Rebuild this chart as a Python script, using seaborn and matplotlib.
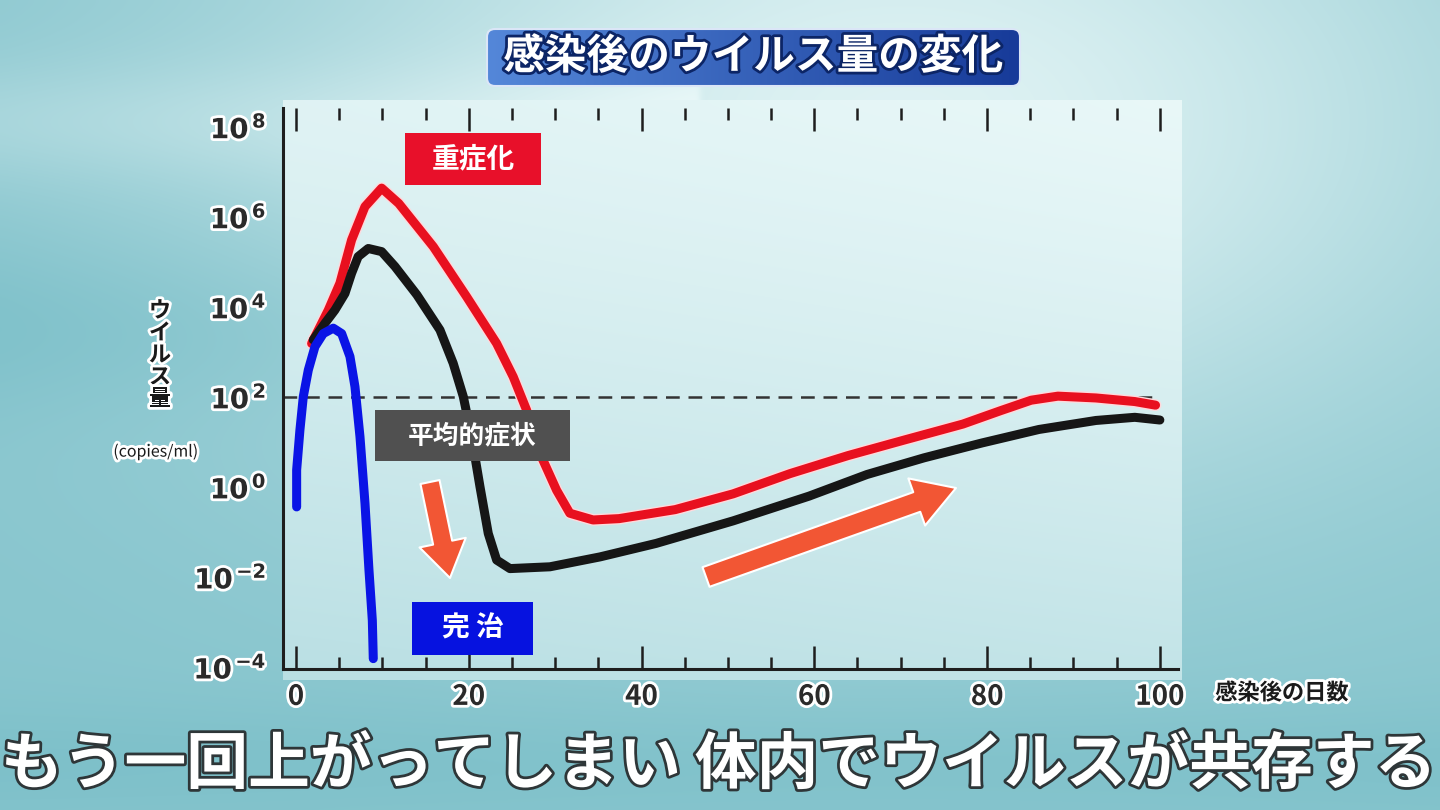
import matplotlib
matplotlib.use('Agg')

import numpy as np
import pandas as pd
import matplotlib.pyplot as plt
import matplotlib.transforms as mtransforms
import seaborn as sns
from matplotlib import patheffects as pe
from matplotlib.patches import Rectangle, FancyBboxPatch, FancyArrowPatch
from matplotlib.ticker import FixedLocator, MultipleLocator, FuncFormatter

sns.set_theme(style='white')
plt.rcParams['font.family'] = ['Noto Sans CJK JP', 'DejaVu Sans']
plt.rcParams['mathtext.fontset'] = 'dejavusans'

# Data: days after infection vs log10(copies/ml)
severe_day = [1.81, 3.74, 5.09, 6.44, 7.99, 9.92, 11.9, 15.9, 19.75, 23.23, 25.15, 26.7,
              28.24, 30.17, 31.7, 34.4, 37.4, 43.9, 50.6, 57.2, 63.9, 70.5, 77.2, 81.6,
              85.1, 88.2, 92.6, 97.1, 99.5]
severe_log = [3.19, 3.93, 4.53, 5.49, 6.23, 6.64, 6.30, 5.34, 4.23, 3.19, 2.45, 1.71,
              0.75, -0.07, -0.58, -0.73, -0.70, -0.50, -0.15, 0.30, 0.70, 1.05, 1.40, 1.70,
              1.93, 2.02, 1.98, 1.90, 1.82]

average_day = [2.0, 3.36, 4.5, 5.67, 6.44, 7.2, 8.37, 9.92, 11.46, 14.0, 16.67, 18.2, 19.37,
               20.33, 21.3, 22.26, 23.23, 24.77, 29.4, 35.2, 41.7, 50.6, 59.4, 66.1, 72.7,
               79.4, 86.0, 92.6, 97.1, 100.0]
average_log = [3.27, 3.64, 3.93, 4.30, 4.75, 5.12, 5.30, 5.23, 4.90, 4.27, 3.49, 2.75, 2.01,
               1.12, 0.01, -1.03, -1.62, -1.81, -1.77, -1.55, -1.25, -0.75, -0.20, 0.28, 0.65,
               0.98, 1.28, 1.48, 1.55, 1.49]

cured_day = [0.08, 0.08, 0.46, 0.85, 1.43, 2.2, 3.16, 4.32, 5.29, 6.25, 6.83, 7.41, 7.99,
             8.45, 8.84, 8.95]
cured_log = [-0.44, 0.38, 1.27, 2.01, 2.60, 3.12, 3.41, 3.53, 3.41, 2.90, 2.23, 1.12, -0.36,
             -1.84, -2.96, -3.81]

groups = ['重症化', '平均的症状', '完治']
colors = {'重症化': '#e8101f', '平均的症状': '#161616', '完治': '#0a14e6'}

threshold = 1e2
x_major = [0, 20, 40, 60, 80, 100]
y_major_exp = [-4, -2, 0, 2, 4, 6, 8]

title = '感染後のウイルス量の変化'
subtitle = 'もう一回上がってしまい 体内でウイルスが共存する'

frames = []
for name, d, v in [(groups[0], severe_day, severe_log),
                   (groups[1], average_day, average_log),
                   (groups[2], cured_day, cured_log)]:
    frames.append(pd.DataFrame({'day': d, 'copies': 10.0 ** np.array(v), 'group': name}))
df = pd.concat(frames, ignore_index=True)

W, H = 1440, 810
fig = plt.figure(figsize=(14.4, 8.1), dpi=100)
# transform in pixel coordinates measured from top-left
pix = mtransforms.Affine2D().scale(1 / W, -1 / H).translate(0, 1) + fig.transFigure

# background
bg = fig.add_axes([0, 0, 1, 1], zorder=-5)
yy, xx = np.mgrid[0:H:5, 0:W:5].astype(float)
t = 0.33 + 0.57 * np.exp(-((xx - 900) / 650) ** 2 - ((yy - 120) / 380) ** 2)
t += 0.14 * np.exp(-((yy - 120) / 60) ** 2) * (xx < 700)
t -= 0.10 * np.exp(-((yy - 320) / 90) ** 2) * (xx < 300)
t -= 0.06 * np.exp(-((yy - 760) / 60) ** 2)
t = np.clip(t, 0, 1)
dark = np.array([0.33, 0.67, 0.72])
light = np.array([0.93, 0.98, 0.98])
img = dark[None, None, :] * (1 - t[..., None]) + light[None, None, :] * t[..., None]
bg.imshow(img, extent=[0, W, H, 0], interpolation='bicubic', aspect='auto')
# lighter chart panel
py, px = np.mgrid[0:100, 0:100].astype(float)
tp = 0.97 - 0.25 * (py / 100) ** 1.2 - 0.06 * (1 - px / 100)
panel = dark[None, None, :] * (1 - tp[..., None]) + light[None, None, :] * tp[..., None]
bg.imshow(panel, extent=[283, 1182, 680, 100], interpolation='bicubic', aspect='auto')
bg.set_xlim(0, W)
bg.set_ylim(H, 0)
bg.axis('off')

# main chart
ax = fig.add_axes([283 / W, 1 - 669 / H, (1178 - 283) / W, (669 - 108) / H])
ax.patch.set_alpha(0)
sns.lineplot(data=df, x='day', y='copies', hue='group', hue_order=groups,
             palette=colors, sort=False, estimator=None, linewidth=6.5,
             legend=False, ax=ax)
for ln in ax.lines:
    ln.set_solid_joinstyle('round')
    ln.set_solid_capstyle('round')
ax.lines[0].set_path_effects([pe.Stroke(linewidth=8.5, foreground='#ffd9dc'), pe.Normal()])
ax.hlines(threshold, -1.5, 100, colors='#333333', linestyles=(0, (5.5, 3.5)),
          linewidth=1.8, zorder=1)

ax.set_yscale('log')
ax.set_xlim(-1.5, 102.1)
ax.set_ylim(10 ** -4.04, 10 ** 8.42)
ax.set_xlabel('')
ax.set_ylabel('')


def pow_label(v, pos):
    e = int(round(np.log10(v)))
    return r'$\mathbf{10^{\,%s}}$' % str(e).replace('-', '{-}')


ax.xaxis.set_major_locator(FixedLocator(x_major))
ax.xaxis.set_minor_locator(MultipleLocator(5))
ax.yaxis.set_major_locator(FixedLocator([10.0 ** e for e in y_major_exp]))
ax.yaxis.set_minor_locator(FixedLocator([]))
ax.yaxis.set_major_formatter(FuncFormatter(pow_label))
ax.tick_params(axis='x', which='both', direction='in', top=True, bottom=True,
               color='#1e1e1e', width=1.8, labelsize=20, labelcolor='#2a2a2a', pad=10)
ax.tick_params(axis='x', which='major', length=16.5)
ax.tick_params(axis='x', which='minor', length=8.6)
ax.tick_params(axis='y', which='both', length=0, labelsize=20, labelcolor='#2a2a2a', pad=12)
halo = [pe.withStroke(linewidth=4, foreground='white')]
for lab in ax.get_xticklabels():
    lab.set_fontweight('bold')
    lab.set_path_effects(halo)
for lab in ax.get_yticklabels():
    lab.set_path_effects(halo)
for s in ['top', 'right']:
    ax.spines[s].set_visible(False)
for s in ['left', 'bottom']:
    ax.spines[s].set_color('#1e1e1e')
    ax.spines[s].set_linewidth(2.2)

# axis titles
fig.text(160, 355, 'ウ\nイ\nル\nス\n量', transform=pix, ha='center', va='center',
         fontsize=16, fontweight='bold', color='#1a1a1a', linespacing=0.95,
         path_effects=halo)
fig.text(156, 452, '(copies/ml)', transform=pix, ha='center', va='center',
         fontsize=11.5, color='#1a1a1a', path_effects=halo)
fig.text(1282, 693, '感染後の日数', transform=pix, ha='center', va='center',
         fontsize=16, fontweight='bold', color='#1a1a1a', path_effects=halo)

# title box with a left-to-right blue gradient
grad = np.linspace(0, 1, 200)[None, :, None]
c1 = np.array([0.33, 0.53, 0.85])
c2 = np.array([0.09, 0.23, 0.60])
gimg = c1 * (1 - grad) + c2 * grad
gi = bg.imshow(gimg, extent=[487, 1020, 86, 29], aspect='auto', zorder=3)
gb = FancyBboxPatch((487, 29), 533, 57, boxstyle='round,pad=0,rounding_size=8',
                    transform=bg.transData, facecolor='none', edgecolor='#dbe6f7',
                    linewidth=1.5, zorder=4)
bg.add_patch(gb)
gi.set_clip_path(gb)
bg.set_xlim(0, W)
bg.set_ylim(H, 0)
fig.text(753, 57, title, transform=pix, ha='center', va='center', fontsize=30,
         fontweight='bold', color='white', zorder=5,
         path_effects=[pe.withStroke(linewidth=4, foreground='#0c2566')])

# group labels
def label_box(x0, y0, x1, y1, text, color, size):
    fig.patches.append(Rectangle((x0, y0), x1 - x0, y1 - y0, transform=pix,
                                 facecolor=color, edgecolor='none', zorder=2))
    fig.text((x0 + x1) / 2, (y0 + y1) / 2, text, transform=pix, ha='center',
             va='center', fontsize=size, fontweight='bold', color='white', zorder=3)

label_box(405, 133, 541, 185, '重症化', '#e8102a', 20)
label_box(375, 410, 570, 461, '平均的症状', '#505050', 18.5)
label_box(412, 602, 533, 655, '完 治', '#0612e0', 20)

# arrows
arrow_color = '#f25634'
for a, b, tw, hw, hl in [((430, 482), (450, 578), 14, 34, 26),
                         ((706, 577), (956, 488), 15, 36, 30)]:
    fig.patches.append(FancyArrowPatch(
        a, b, transform=pix, shrinkA=0, shrinkB=0,
        arrowstyle=f'simple,tail_width={tw},head_width={hw},head_length={hl}',
        mutation_scale=1, facecolor=arrow_color, edgecolor='white',
        linewidth=1.5, zorder=2))

# caption
fig.text(718, 765, subtitle, transform=pix, ha='center', va='center', fontsize=44.5,
         fontweight='bold', color='white', zorder=5,
         path_effects=[pe.withStroke(linewidth=4, foreground='#2e3638')])

fig.savefig('out.png', dpi=100)
